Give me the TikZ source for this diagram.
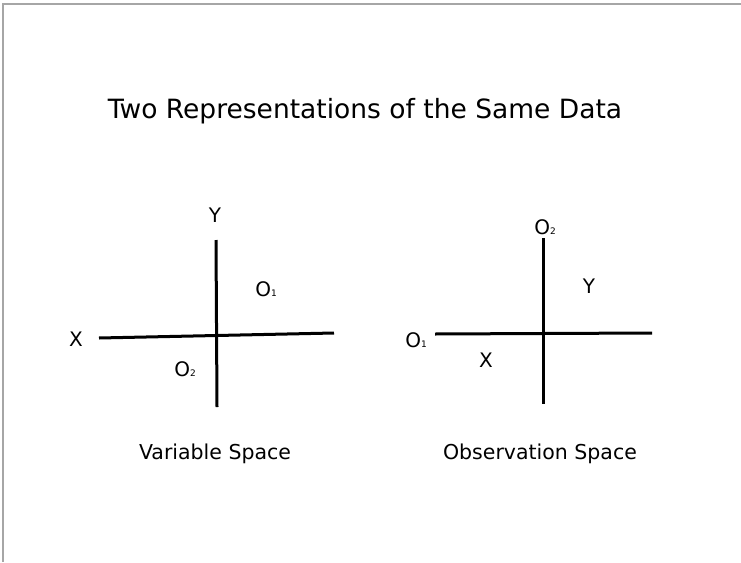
\documentclass[tikz,border=0pt]{standalone}
\usepackage{fontspec}
\setmainfont{DejaVu Sans}
\tikzset{
  axis/.style={line width=3pt},
  lbl/.style={font=\fontsize{20}{22}\selectfont, inner sep=0pt},
  caption/.style={font=\fontsize{20.5}{24}\selectfont, inner sep=0pt},
}
\newcommand{\obs}[1]{O\raisebox{0pt}{\fontsize{9}{9}\selectfont #1}}
\begin{document}
\begin{tikzpicture}[x=1pt,y=-1pt]
\useasboundingbox (0,0) rectangle (741,562);
\draw[gray!70,line width=1.8pt] (3,562) -- (3,4) -- (741,4);

\node[inner sep=0pt,font=\fontsize{26.5}{30}\selectfont] (title) at (365,111) {Two Representations of the Same Data};

% variable space
\coordinate (vxl) at (99,338);
\coordinate (vxr) at (334,333);
\coordinate (vyt) at (216,240);
\coordinate (vyb) at (217,407);
\draw[axis] (vxl) -- (vxr);
\draw[axis] (vyt) -- (vyb);
\node[lbl] (vx) at (76,339) {X};
\node[lbl] (vy) at (215,215) {Y};
\node[lbl] (vo1) at (266,289) {\obs{1}};
\node[lbl] (vo2) at (185,369) {\obs{2}};
\node[caption] (vcap) at (215,454) {Variable Space};

% observation space
\coordinate (oxl) at (435,334);
\coordinate (oxr) at (652,333);
\coordinate (oyt) at (543,238);
\coordinate (oyb) at (543,404);
\draw[axis] (oxl) -- (oxr);
\draw[axis] (oyt) -- (oyb);
\node[lbl] (oo1) at (416,340) {\obs{1}};
\node[lbl] (oo2) at (545,227) {\obs{2}};
\node[lbl] (oy) at (589,286) {Y};
\node[lbl] (ox) at (486,360) {X};
\node[caption] (ocap) at (540,454) {Observation Space};
\end{tikzpicture}
\end{document}
